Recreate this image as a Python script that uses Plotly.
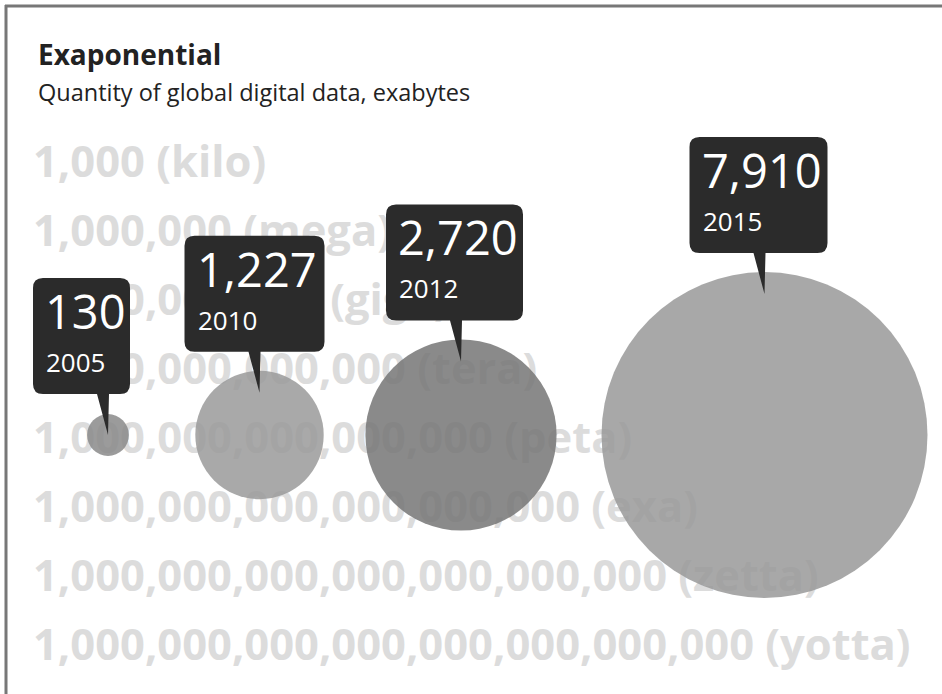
import math
import plotly.graph_objects as go

# Data: global digital data volume (exabytes) by year
years = ["2005", "2010", "2012", "2015"]
exabytes = [130, 1227, 2720, 7910]

# Background scale ladder
scale_numbers = [
    "1,000",
    "1,000,000",
    "1,000,000,000",
    "1,000,000,000,000",
    "1,000,000,000,000,000",
    "1,000,000,000,000,000,000",
    "1,000,000,000,000,000,000,000",
    "1,000,000,000,000,000,000,000,000",
]
scale_prefixes = ["kilo", "mega", "giga", "tera", "peta", "exa", "zetta", "yotta"]

# Layout / styling
W, H = 942, 694
FONT = "Open Sans, Noto Sans, Liberation Sans, sans-serif"
bubble_x = [108, 259.5, 461, 764.5]
bubble_cy = 435
max_diameter = 326
bubble_fill = [
    "rgba(138,138,138,0.85)",
    "rgba(154,154,154,0.85)",
    "rgba(117,117,117,0.85)",
    "rgba(153,153,153,0.85)",
]
box_width = [97, 140, 137, 138]
box_height = 116
box_color = "#2b2b2b"
ladder_x, ladder_top, ladder_step = 33, 166.5, 68.9

sizeref = 2.0 * max(exabytes) / max_diameter ** 2
radius = [math.sqrt(v / (2.0 * sizeref)) for v in exabytes]

fig = go.Figure()

# faint scale ladder behind the bubbles
fig.add_trace(go.Scatter(
    x=[ladder_x] * len(scale_numbers),
    y=[ladder_top + ladder_step * i for i in range(len(scale_numbers))],
    text=[f"{n} ({p})" for n, p in zip(scale_numbers, scale_prefixes)],
    mode="text",
    textposition="middle right",
    textfont=dict(family=FONT, size=43.5, color="#dcdcdc", weight="bold"),
    hoverinfo="skip",
))

# bubbles, area proportional to exabytes
fig.add_trace(go.Scatter(
    x=bubble_x,
    y=[bubble_cy] * len(exabytes),
    mode="markers",
    marker=dict(size=exabytes, sizemode="area", sizeref=sizeref, opacity=1,
                color=bubble_fill, line=dict(width=0)),
    hovertext=[f"{y}: {v:,} exabytes" for y, v in zip(years, exabytes)],
    hoverinfo="text",
))

shapes = []
annotations = []
r_c = 10
for yr, v, bx, r, bw in zip(years, exabytes, bubble_x, radius, box_width):
    tip_x = bx
    tip_y = bubble_cy - max(r - 22, 0)
    bottom = tip_y - 41
    top = bottom - box_height
    left = tip_x - 75
    right = left + bw
    path = (
        f"M{left + r_c},{top} H{right - r_c} Q{right},{top} {right},{top + r_c} "
        f"V{bottom - r_c} Q{right},{bottom} {right - r_c},{bottom} "
        f"H{tip_x + 1} L{tip_x},{tip_y} L{tip_x - 11},{bottom} "
        f"H{left + r_c} Q{left},{bottom} {left},{bottom - r_c} "
        f"V{top + r_c} Q{left},{top} {left + r_c},{top} Z"
    )
    shapes.append(dict(type="path", path=path, xref="x", yref="y",
                       fillcolor=box_color, line=dict(width=0), layer="above"))
    annotations.append(dict(
        x=left + 10, y=top + 33, xref="x", yref="y", text=f"{v:,}",
        showarrow=False, xanchor="left", yanchor="middle",
        font=dict(family=FONT, size=47, color="white"),
    ))
    annotations.append(dict(
        x=left + 11, y=top + 84, xref="x", yref="y", text=yr,
        showarrow=False, xanchor="left", yanchor="middle",
        font=dict(family=FONT, size=26, color="white"),
    ))

# title and subtitle
annotations.append(dict(
    x=36, y=54, xref="x", yref="y", text="Exaponential", showarrow=False,
    xanchor="left", yanchor="middle",
    font=dict(family=FONT, size=28, color="#222222", weight="bold"),
))
annotations.append(dict(
    x=36, y=92, xref="x", yref="y", text="Quantity of global digital data, exabytes",
    showarrow=False, xanchor="left", yanchor="middle",
    font=dict(family=FONT, size=23.5, color="#222222"),
))

# frame lines along top and left edges
shapes.append(dict(type="line", xref="x", yref="y", x0=5, x1=W, y0=6, y1=6,
                   line=dict(color="#777777", width=3), layer="above"))
shapes.append(dict(type="line", xref="x", yref="y", x0=6, x1=6, y0=5, y1=H,
                   line=dict(color="#777777", width=3), layer="above"))

fig.update_layout(
    width=W, height=H,
    margin=dict(l=0, r=0, t=0, b=0),
    paper_bgcolor="white", plot_bgcolor="white",
    showlegend=False,
    xaxis=dict(range=[0, W], visible=False, fixedrange=True),
    yaxis=dict(range=[H, 0], visible=False, fixedrange=True),
    shapes=shapes,
    annotations=annotations,
)

fig.write_html("out.html")
